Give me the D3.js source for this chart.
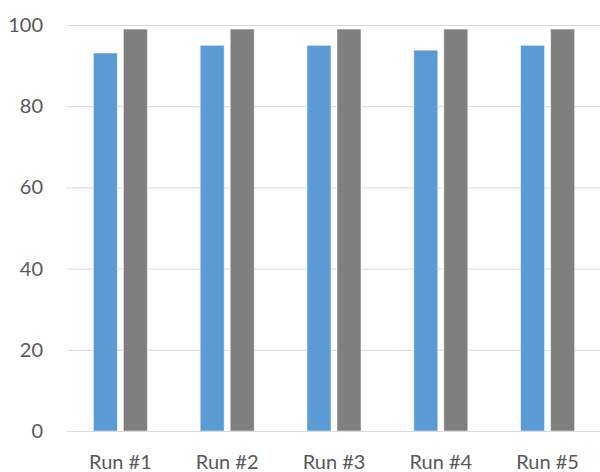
<!DOCTYPE html>
<html>
<head>
<meta charset="utf-8">
<script src="https://cdn.jsdelivr.net/npm/d3@7"></script>
<style>
  body { margin: 0; background: #fff; }
  svg text { font-family: Lato, "Open Sans", sans-serif; fill: #595959; }
</style>
</head>
<body>
<svg id="chart" width="600" height="472"></svg>
<script>
var categories = ["Run #1", "Run #2", "Run #3", "Run #4", "Run #5"];
var seriesNames = ["first", "second"];
var firstValues = [93.1, 95.0, 95.0, 93.8, 95.0];
var secondValues = [99.0, 99.0, 99.0, 99.0, 99.0];
var yTicks = [0, 20, 40, 60, 80, 100];
var colors = ["#5B9BD5", "#7F7F7F"];

var svg = d3.select("svg#chart");
var plotLeft = 67, plotRight = 601, plotTop = 25, plotBottom = 431;

var x0 = d3.scaleBand()
    .domain(categories)
    .range([plotLeft, plotRight])
    .paddingInner(0.494)
    .paddingOuter(0.247);

var x1 = d3.scaleBand()
    .domain(seriesNames)
    .range([0, x0.bandwidth()])
    .paddingInner(0.2);

var y = d3.scaleLinear()
    .domain([0, 100])
    .range([plotBottom, plotTop]);

// gridlines + y labels
var yAxis = svg.append("g")
    .attr("transform", "translate(" + plotLeft + ",0)")
    .call(d3.axisLeft(y).tickValues(yTicks).tickSize(-(plotRight - plotLeft)).tickPadding(24));
yAxis.select(".domain").remove();
yAxis.selectAll(".tick line").attr("stroke", "#D9D9D9").attr("stroke-width", 1);
yAxis.selectAll(".tick text")
    .style("font-size", "20px")
    .attr("fill", "#595959");

var rows = categories.map(function(c, i) {
  return { cat: c, vals: [firstValues[i], secondValues[i]] };
});

var groups = svg.selectAll("g.group")
    .data(rows)
    .enter().append("g")
    .attr("class", "group")
    .attr("transform", function(d) { return "translate(" + x0(d.cat) + ",0)"; });

groups.selectAll("rect")
    .data(function(d) { return d.vals.map(function(v, j) { return { key: seriesNames[j], v: v, j: j }; }); })
    .enter().append("rect")
    .attr("x", function(d) { return x1(d.key); })
    .attr("width", x1.bandwidth())
    .attr("y", function(d) { return y(d.v); })
    .attr("height", function(d) { return y(0) - y(d.v); })
    .attr("fill", function(d) { return colors[d.j]; })
    .attr("stroke", "#fff")
    .attr("stroke-opacity", 0.5)
    .attr("stroke-width", 1);

// x labels
var xAxis = svg.append("g")
    .attr("transform", "translate(0," + plotBottom + ")")
    .call(d3.axisBottom(x0).tickSize(0).tickPadding(24));
xAxis.select(".domain").attr("stroke", "#D9D9D9");
xAxis.selectAll(".tick text")
    .style("font-size", "20px")
    .attr("fill", "#595959");
</script>
</body>
</html>
